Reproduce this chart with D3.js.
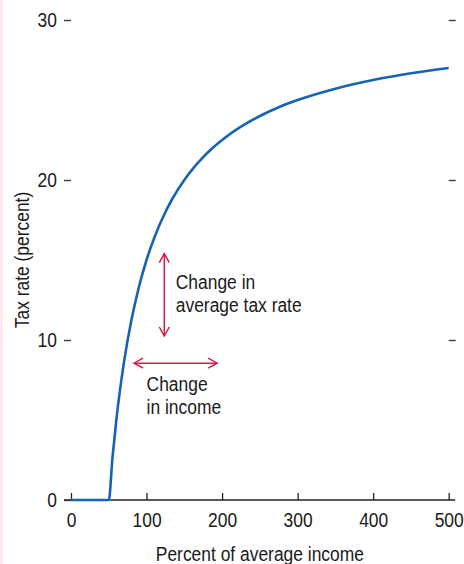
<!DOCTYPE html>
<html>
<head>
<meta charset="utf-8">
<script src="https://cdn.jsdelivr.net/npm/d3@7"></script>
<style>
  body { margin: 0; background: #fff; }
  svg text { font-family: "Liberation Sans", Arial, sans-serif; fill: #1a1a1a; }
</style>
</head>
<body>
<div id="chart"></div>
<script>
// average tax rate vs income
var income  = [0, 50, 55, 60, 70, 80, 90, 100, 110, 125, 135, 150, 162, 175, 187, 200, 225, 250, 275, 300, 350, 400, 450, 500];
var taxRate = [0, 0, 2.7, 5, 8.57, 11.25, 13.33, 15, 16.36, 18, 18.89, 20, 20.74, 21.43, 21.98, 22.5, 23.33, 24, 24.55, 25, 25.71, 26.25, 26.67, 27];

var xTicks = [0, 100, 200, 300, 400, 500];
var yTicks = [0, 10, 20, 30];

// annotation arrows, in data units
var vArrow = { x: 123.5, y1: 10.25, y2: 15.4 };
var hArrow = { y: 8.55, x1: 83.5, x2: 193.5 };

var width = 464, height = 564;
var squeeze = 0.83; // condensed look, no narrow font around

var svg = d3.select('#chart')
  .append('svg')
  .attr('width', width)
  .attr('height', height);

// faint pink strip down the left edge
svg.append('rect')
  .attr('x', 0).attr('y', 0)
  .attr('width', 3).attr('height', height)
  .attr('fill', '#fbe9ec');

var x = d3.scaleLinear().domain([0, 500]).range([71, 448.7]);
var y = d3.scaleLinear().domain([0, 30]).range([500, 20]);

// x axis: line plus ticks pointing up
var xAxis = svg.append('g')
  .attr('transform', 'translate(0,500)')
  .call(d3.axisBottom(x).tickValues(xTicks).tickSizeInner(-7).tickSizeOuter(0));
xAxis.select('.domain').remove();
xAxis.selectAll('.tick line').attr('stroke', '#222').attr('stroke-width', 1.3);
xAxis.selectAll('.tick text')
  .attr('font-size', 21)
  .attr('fill', '#1a1a1a')
  .attr('dy', null)
  .attr('y', 27)
  .attr('transform', 'scale(' + squeeze + ',1)');
svg.append('line')
  .attr('x1', x(0) - 7).attr('x2', x(500) + 6.5)
  .attr('y1', y(0)).attr('y2', y(0))
  .attr('stroke', '#222').attr('stroke-width', 1.3);

// left ticks (outside, short dashes) with labels
var yAxis = svg.append('g')
  .attr('transform', 'translate(' + x(0) + ',0)')
  .call(d3.axisLeft(y).tickValues(yTicks).tickSizeInner(7).tickSizeOuter(0));
yAxis.select('.domain').remove();
yAxis.selectAll('.tick line').attr('stroke', '#333').attr('stroke-width', 1.3);
yAxis.selectAll('.tick text')
  .attr('font-size', 21)
  .attr('fill', '#1a1a1a')
  .attr('x', -14 / squeeze)
  .attr('transform', 'scale(' + squeeze + ',1)');

// right ticks, no labels
var yRight = svg.append('g')
  .attr('transform', 'translate(' + x(500) + ',0)')
  .call(d3.axisRight(y).tickValues(yTicks.filter(function(d) { return d > 0; }))
    .tickSizeInner(7).tickSizeOuter(0).tickFormat(''));
yRight.select('.domain').remove();
yRight.selectAll('.tick line').attr('stroke', '#333').attr('stroke-width', 1.3);

// axis titles
svg.append('text')
  .attr('transform', 'translate(' + ((x(0) + x(500)) / 2) + ',561) scale(' + squeeze + ',1)')
  .attr('text-anchor', 'middle')
  .attr('font-size', 21)
  .text('Percent of average income');

svg.append('text')
  .attr('transform', 'translate(29,' + ((y(0) + y(30)) / 2) + ') rotate(-90) scale(' + squeeze + ',1)')
  .attr('text-anchor', 'middle')
  .attr('font-size', 21)
  .text('Tax rate (percent)');

// the curve
var pts = income.map(function(d, i) { return [d, taxRate[i]]; });
var line = d3.line()
  .x(function(d) { return x(d[0]); })
  .y(function(d) { return y(d[1]); })
  .curve(d3.curveMonotoneX);

svg.append('path')
  .datum(pts)
  .attr('d', line)
  .attr('fill', 'none')
  .attr('stroke', '#1763b3')
  .attr('stroke-width', 2.6);

// arrows
var red = '#d11f45';
function chevron(px, py, dx, dy) {
  // open arrowhead at (px,py) pointing along (dx,dy)
  var len = 9, half = 5;
  var bx = px - dx * len, by = py - dy * len;
  var nx = -dy, ny = dx;
  return 'M' + (bx + nx * half) + ',' + (by + ny * half) +
    'L' + px + ',' + py +
    'L' + (bx - nx * half) + ',' + (by - ny * half);
}
var arrows = svg.append('g')
  .attr('stroke', red)
  .attr('stroke-width', 1.5)
  .attr('fill', 'none');

arrows.append('line')
  .attr('x1', x(vArrow.x)).attr('x2', x(vArrow.x))
  .attr('y1', y(vArrow.y1)).attr('y2', y(vArrow.y2));
arrows.append('path').attr('d', chevron(x(vArrow.x), y(vArrow.y2), 0, -1));
arrows.append('path').attr('d', chevron(x(vArrow.x), y(vArrow.y1), 0, 1));

arrows.append('line')
  .attr('x1', x(hArrow.x1)).attr('x2', x(hArrow.x2))
  .attr('y1', y(hArrow.y)).attr('y2', y(hArrow.y));
arrows.append('path').attr('d', chevron(x(hArrow.x1), y(hArrow.y), -1, 0));
arrows.append('path').attr('d', chevron(x(hArrow.x2), y(hArrow.y), 1, 0));

// annotation labels
function label(tx, ty, lines) {
  var t = svg.append('text')
    .attr('transform', 'translate(' + tx + ',' + ty + ') scale(' + squeeze + ',1)')
    .attr('font-size', 21);
  lines.forEach(function(s, i) {
    t.append('tspan').attr('x', 0).attr('dy', i === 0 ? 0 : 23.5).text(s);
  });
}
label(x(vArrow.x) + 11.5, 289, ['Change in', 'average tax rate']);
label(x(hArrow.x1) + 12.5, 391, ['Change', 'in income']);
</script>
</body>
</html>
